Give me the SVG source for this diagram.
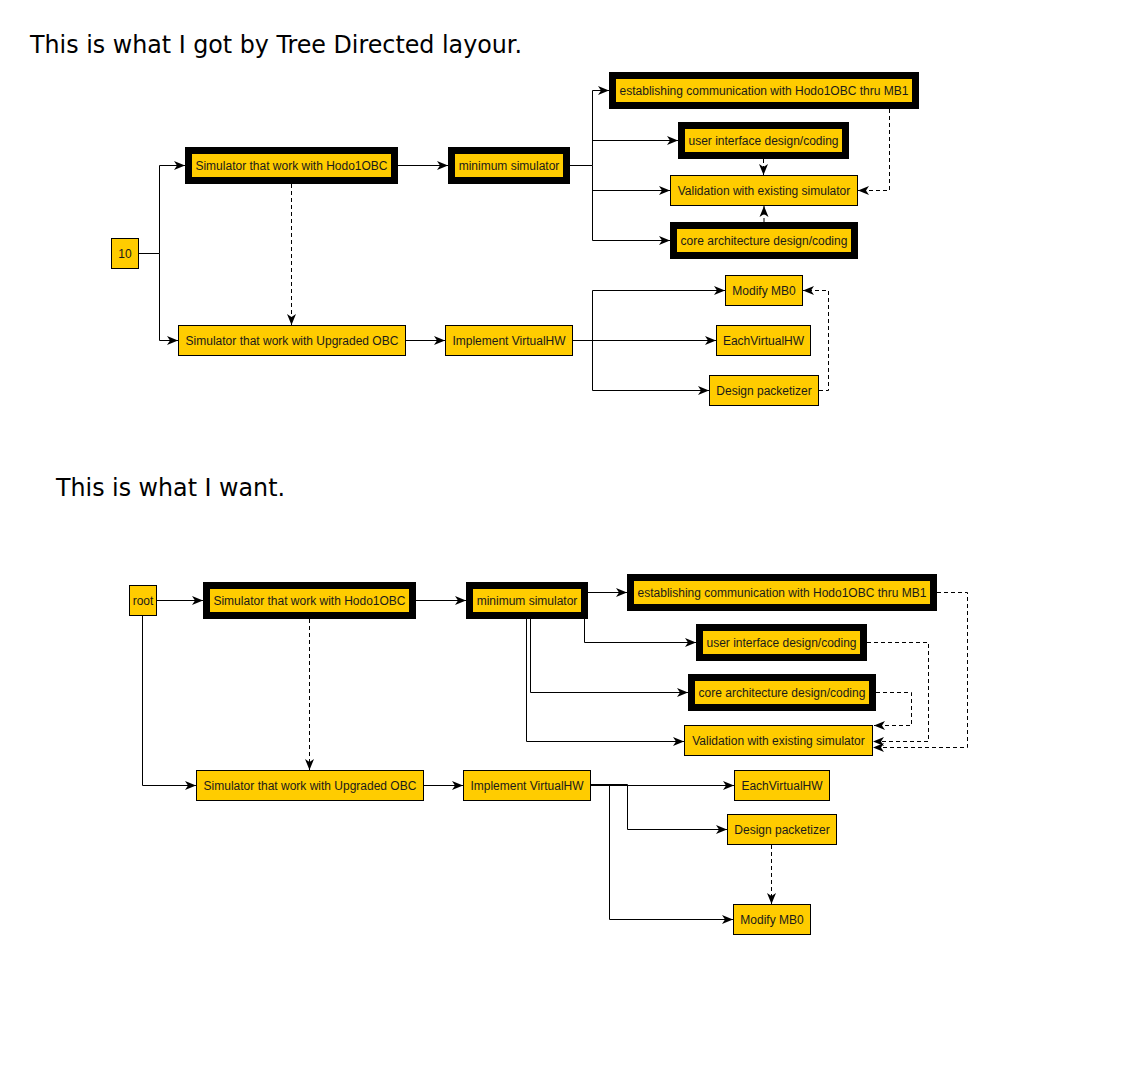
<svg xmlns="http://www.w3.org/2000/svg" width="1122" height="1074" viewBox="0 0 1122 1074">
<defs>
<style>
.n{fill:#FFCC00;stroke:#000;stroke-width:1}
.t{fill:#FFCC00;stroke:#000;stroke-width:7}
.l{font-family:"Liberation Sans",Arial,sans-serif;font-size:12px;fill:#1a1a1a;text-anchor:middle}
.h{font-family:"DejaVu Sans","Noto Sans",sans-serif;font-size:25px;fill:#000}
.e{fill:none;stroke:#000;stroke-width:1;marker-end:url(#a)}
.d{fill:none;stroke:#000;stroke-width:1;stroke-dasharray:4 3;marker-end:url(#a)}
</style>
<marker id="a" viewBox="-11 -5 11 10" refX="0" refY="0" markerWidth="11" markerHeight="10" markerUnits="userSpaceOnUse" orient="auto">
<path d="M-11,-4.5 L0,0 L-11,4.5 L-8,0 Z" fill="#000"/>
</marker>
</defs>
<rect width="1122" height="1074" fill="#fff"/>
<text class="h" x="30" y="53" textLength="492" lengthAdjust="spacingAndGlyphs">This is what I got by Tree Directed layour.</text>
<text class="h" x="56" y="496" textLength="229" lengthAdjust="spacingAndGlyphs">This is what I want.</text>

<g id="connectors">
<!-- top -->
<path class="e" d="M138.5,253.5 H159.5 V165.5 H185"/>
<path class="e" d="M159.5,253.5 V340.5 H178"/>
<path class="e" d="M398,165.5 H448"/>
<path class="d" d="M291.5,184 V325"/>
<path class="e" d="M406,340.5 H445"/>
<path class="e" d="M570,165.5 H592.5 V90.5 H609"/>
<path class="e" d="M592.5,140.5 H678"/>
<path class="e" d="M592.5,190.5 H670"/>
<path class="e" d="M592.5,165.5 V240.5 H670"/>
<path class="d" d="M763.5,159 V175"/>
<path class="d" d="M764,222 V206"/>
<path class="d" d="M889.5,109 V190.5 H858"/>
<path class="e" d="M573,340.5 H716"/>
<path class="e" d="M592.5,340.5 V290.5 H725"/>
<path class="e" d="M592.5,340.5 V390.5 H709"/>
<path class="d" d="M819,390.5 H828.5 V290.5 H803"/>
<!-- bottom -->
<path class="e" d="M157,600.5 H203"/>
<path class="e" d="M142.5,615.5 V785.5 H196"/>
<path class="e" d="M416,600.5 H466"/>
<path class="d" d="M309.5,619 V770"/>
<path class="e" d="M588,592.5 H627"/>
<path class="e" d="M584.5,619 V642.5 H696"/>
<path class="e" d="M530.5,619 V692.5 H688"/>
<path class="e" d="M526.5,619 V741.5 H684"/>
<path class="d" d="M937,592.5 H967.5 V747.5 H873"/>
<path class="d" d="M867,642.5 H928.5 V741.5 H873"/>
<path class="d" d="M876,692.5 H911.5 V725.5 H874"/>
<path class="e" d="M424,785.5 H463"/>
<path class="e" d="M591,785.5 H734"/>
<path class="e" d="M591,784.5 H627.5 V829.5 H727"/>
<path class="e" d="M591,784.5 H609.5 V919.5 H733"/>
<path class="d" d="M771.5,845 V904"/>
</g>

<!-- top diagram nodes -->
<g id="t-10"><rect class="n" x="111.5" y="238.5" width="27" height="30"/><text class="l" x="125" y="257.5">10</text></g>
<g id="t-hodo"><rect class="t" x="188.5" y="150.5" width="206" height="30"/><text class="l" x="291.5" y="170">Simulator that work with Hodo1OBC</text></g>
<g id="t-min"><rect class="t" x="451.5" y="150.5" width="115" height="30"/><text class="l" x="509" y="170">minimum simulator</text></g>
<g id="t-est"><rect class="t" x="612.5" y="75.5" width="303" height="30"/><text class="l" x="764" y="95">establishing communication with Hodo1OBC thru MB1</text></g>
<g id="t-ui"><rect class="t" x="681.5" y="125.5" width="164" height="30"/><text class="l" x="763.5" y="145">user interface design/coding</text></g>
<g id="t-val"><rect class="n" x="670.5" y="175.5" width="187" height="30"/><text class="l" x="764" y="195">Validation with existing simulator</text></g>
<g id="t-core"><rect class="t" x="673.5" y="225.5" width="181" height="30"/><text class="l" x="764" y="245">core architecture design/coding</text></g>
<g id="t-upg"><rect class="n" x="178.5" y="325.5" width="227" height="30"/><text class="l" x="292" y="345">Simulator that work with Upgraded OBC</text></g>
<g id="t-impl"><rect class="n" x="445.5" y="325.5" width="127" height="30"/><text class="l" x="509" y="345">Implement VirtualHW</text></g>
<g id="t-mod"><rect class="n" x="725.5" y="275.5" width="77" height="30"/><text class="l" x="764" y="295">Modify MB0</text></g>
<g id="t-each"><rect class="n" x="716.5" y="325.5" width="94" height="30"/><text class="l" x="763.5" y="345">EachVirtualHW</text></g>
<g id="t-design"><rect class="n" x="709.5" y="375.5" width="109" height="30"/><text class="l" x="764" y="395">Design packetizer</text></g>

<!-- bottom diagram nodes -->
<g id="b-root"><rect class="n" x="129.5" y="585.5" width="27" height="30"/><text class="l" x="143" y="605">root</text></g>
<g id="b-hodo"><rect class="t" x="206.5" y="585.5" width="206" height="30"/><text class="l" x="309.5" y="605">Simulator that work with Hodo1OBC</text></g>
<g id="b-min"><rect class="t" x="469.5" y="585.5" width="115" height="30"/><text class="l" x="527" y="605">minimum simulator</text></g>
<g id="b-est"><rect class="t" x="630.5" y="577.5" width="303" height="30"/><text class="l" x="782" y="597">establishing communication with Hodo1OBC thru MB1</text></g>
<g id="b-ui"><rect class="t" x="699.5" y="627.5" width="164" height="30"/><text class="l" x="781.5" y="647">user interface design/coding</text></g>
<g id="b-core"><rect class="t" x="691.5" y="677.5" width="181" height="30"/><text class="l" x="782" y="697">core architecture design/coding</text></g>
<g id="b-val"><rect class="n" x="684.5" y="725.5" width="188" height="30"/><text class="l" x="778.5" y="745">Validation with existing simulator</text></g>
<g id="b-upg"><rect class="n" x="196.5" y="770.5" width="227" height="30"/><text class="l" x="310" y="790">Simulator that work with Upgraded OBC</text></g>
<g id="b-impl"><rect class="n" x="463.5" y="770.5" width="127" height="30"/><text class="l" x="527" y="790">Implement VirtualHW</text></g>
<g id="b-each"><rect class="n" x="734.5" y="770.5" width="95" height="30"/><text class="l" x="782" y="790">EachVirtualHW</text></g>
<g id="b-design"><rect class="n" x="727.5" y="814.5" width="109" height="30"/><text class="l" x="782" y="834">Design packetizer</text></g>
<g id="b-mod"><rect class="n" x="733.5" y="904.5" width="77" height="30"/><text class="l" x="772" y="924">Modify MB0</text></g>
</svg>
